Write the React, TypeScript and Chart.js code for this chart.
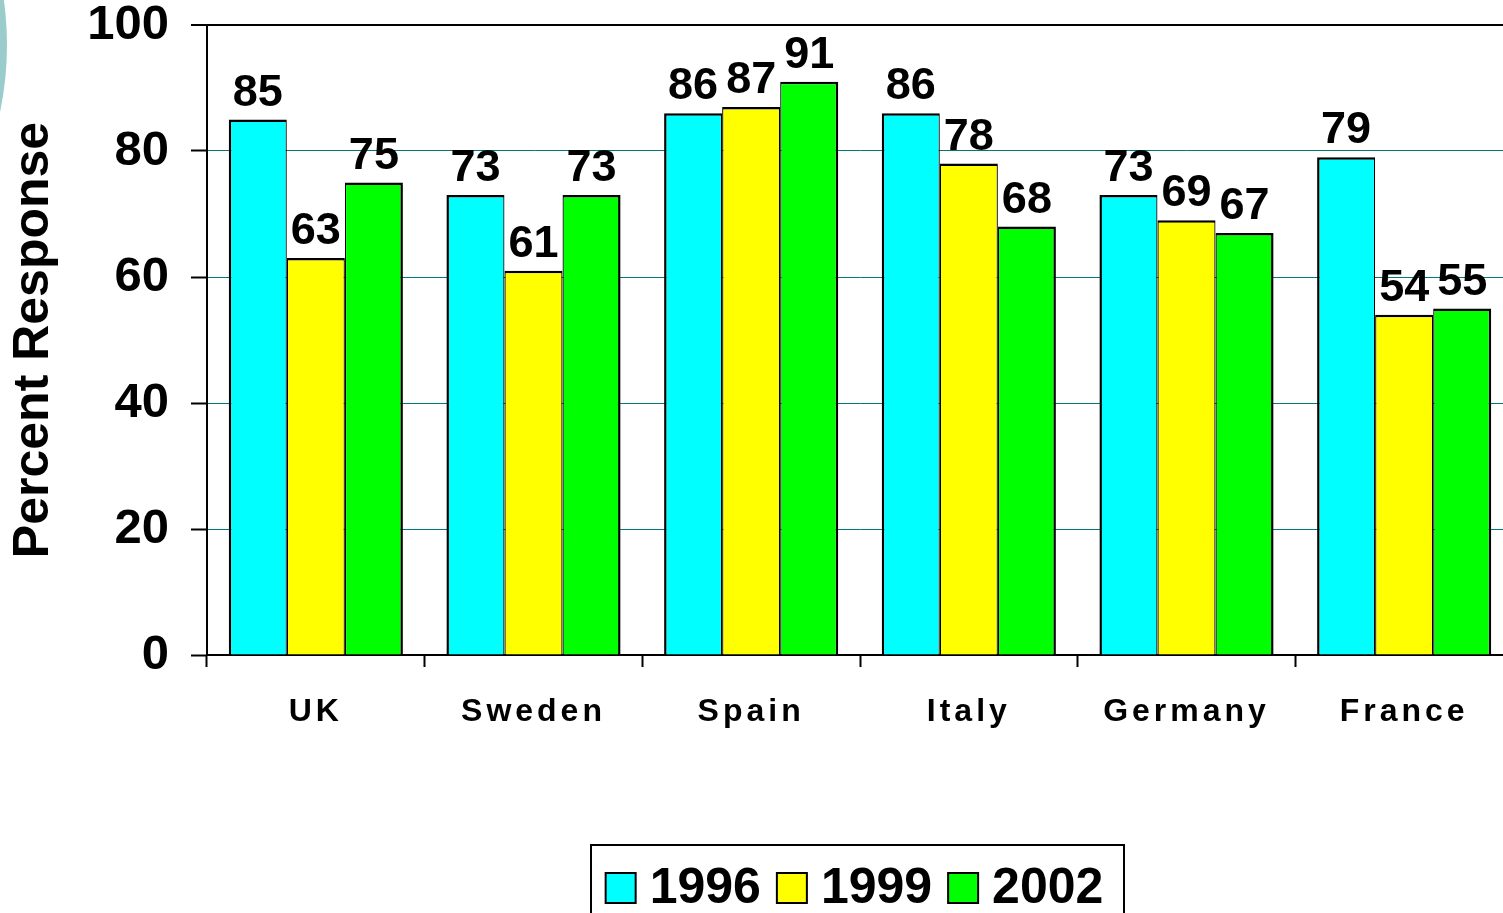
import { useEffect, useRef } from 'react';
import { Chart, registerables } from 'chart.js';

Chart.register(...registerables);

const categories = ['UK', 'Sweden', 'Spain', 'Italy', 'Germany', 'France'];
const seriesNames = ['1996', '1999', '2002'];
const values1996 = [85, 73, 86, 86, 73, 79];
const values1999 = [63, 61, 87, 78, 69, 54];
const values2002 = [75, 73, 91, 68, 67, 55];
const seriesColors = ['#00FFFF', '#FFFF00', '#00FF00'];
const yMin = 0;
const yMax = 100;
const yStep = 20;
const yTitle = 'Percent Response';

const FONT = '"Liberation Sans", Arial, Helvetica, sans-serif';

const decorPlugin = {
  id: 'decor',
  beforeDraw(chart: any) {
    const ctx = chart.ctx;
    ctx.save();
    ctx.fillStyle = '#9ACCCC';
    ctx.beginPath();
    ctx.arc(7 - 324, 45, 324, 0, Math.PI * 2);
    ctx.fill();
    ctx.restore();
  },
};

const valueLabelPlugin = {
  id: 'valueLabels',
  afterDatasetsDraw(chart: any) {
    const ctx = chart.ctx;
    ctx.save();
    ctx.font = `bold 45px ${FONT}`;
    ctx.fillStyle = '#000';
    ctx.textAlign = 'center';
    ctx.textBaseline = 'alphabetic';
    chart.data.datasets.forEach((ds: any, i: number) => {
      const meta = chart.getDatasetMeta(i);
      meta.data.forEach((el: any, j: number) => {
        ctx.fillText(String(ds.data[j]), el.x, el.y - 14);
      });
    });
    ctx.restore();
    // x-axis category labels (drawn after datasets) get letter spacing
    ctx.letterSpacing = '4px';
  },
  afterDraw(chart: any) {
    const ctx = chart.ctx;
    ctx.letterSpacing = '0px';
  },
};

const boxLegendPlugin = {
  id: 'boxLegend',
  afterDraw(chart: any) {
    const ctx = chart.ctx;
    ctx.save();
    ctx.letterSpacing = '0px';
    const boxL = 591;
    const boxR = 1124;
    const boxT = 845;
    ctx.lineWidth = 2;
    ctx.strokeStyle = '#000';
    ctx.strokeRect(boxL, boxT, boxR - boxL, 120);
    ctx.font = `bold 50px ${FONT}`;
    ctx.textBaseline = 'alphabetic';
    ctx.textAlign = 'left';
    const sq = 30;
    const gapText = 14;
    const gapItem = 16;
    const items = chart.data.datasets.map((ds: any) => ({
      label: ds.label,
      color: ds.backgroundColor,
      w: ctx.measureText(ds.label).width,
    }));
    const total =
      items.reduce((a: number, it: any) => a + sq + gapText + it.w, 0) + gapItem * (items.length - 1);
    let x = (boxL + boxR) / 2 - total / 2 - 3;
    const baseline = 903;
    items.forEach((it: any) => {
      ctx.fillStyle = it.color;
      ctx.fillRect(x, baseline - sq, sq, sq);
      ctx.strokeStyle = '#000';
      ctx.lineWidth = 2;
      ctx.strokeRect(x, baseline - sq, sq, sq);
      ctx.fillStyle = '#000';
      ctx.fillText(it.label, x + sq + gapText, baseline);
      x += sq + gapText + it.w + gapItem;
    });
    ctx.restore();
  },
};

export default function App() {
  const ref = useRef<HTMLCanvasElement | null>(null);

  useEffect(() => {
    if (!ref.current) return;
    const series = [values1996, values1999, values2002];
    const borders = [
      { top: 2.5, left: 2.5, right: 1.25, bottom: 0 },
      { top: 2.5, left: 1.25, right: 1.25, bottom: 0 },
      { top: 2.5, left: 1.25, right: 2.5, bottom: 0 },
    ];
    const chart = new Chart(ref.current, {
      type: 'bar',
      data: {
        labels: categories,
        datasets: series.map((vals, i) => ({
          label: seriesNames[i],
          data: vals,
          backgroundColor: seriesColors[i],
          borderColor: '#000',
          borderWidth: borders[i],
          borderSkipped: 'start',
          categoryPercentage: 0.8,
          barPercentage: 1.0,
        })),
      },
      options: {
        responsive: false,
        animation: false,
        events: [],
        layout: { padding: { left: 0, top: 25, right: 2, bottom: 0 } },
        font: { family: FONT },
        plugins: {
          legend: { display: false },
          tooltip: { enabled: false },
          title: { display: false },
        },
        scales: {
          x: {
            offset: true,
            grid: {
              display: true,
              offset: true,
              drawOnChartArea: false,
              drawTicks: true,
              tickLength: 12,
              tickColor: '#000',
              tickWidth: 2,
            },
            border: { display: true, color: '#000', width: 2 },
            ticks: {
              color: '#000',
              font: { family: FONT, size: 32, weight: 'bold' },
              padding: 26,
              maxRotation: 0,
              autoSkip: false,
              z: 1,
            },
            afterFit: (s: any) => {
              s.height = 258;
            },
          },
          y: {
            min: yMin,
            max: yMax,
            ticks: {
              stepSize: yStep,
              color: '#000',
              font: { family: FONT, size: 49, weight: 'bold' },
              padding: 22,
            },
            grid: {
              color: (c: any) => (c.tick && c.tick.value === yMax ? '#000' : '#007878'),
              lineWidth: (c: any) => (c.tick && c.tick.value === yMax ? 2 : 1),
              drawTicks: true,
              tickLength: 16,
              tickColor: '#000',
              tickWidth: 2,
            },
            border: { display: true, color: '#000', width: 2 },
            title: {
              display: true,
              text: yTitle,
              color: '#000',
              font: { family: FONT, size: 50, weight: 'bold' },
              padding: { top: 4, bottom: 0 },
            },
            afterFit: (s: any) => {
              s.width = 207;
              s.paddingTop = 0;
              s.paddingBottom = 0;
            },
          },
        },
      } as any,
      plugins: [decorPlugin, valueLabelPlugin, boxLegendPlugin],
    });
    return () => chart.destroy();
  }, []);

  return (
    <div
      style={{
        position: 'fixed',
        left: 0,
        top: 0,
        width: 1503,
        height: 913,
        overflow: 'hidden',
        background: '#fff',
      }}
    >
      <canvas ref={ref} width={1515} height={913} style={{ display: 'block' }} />
    </div>
  );
}
